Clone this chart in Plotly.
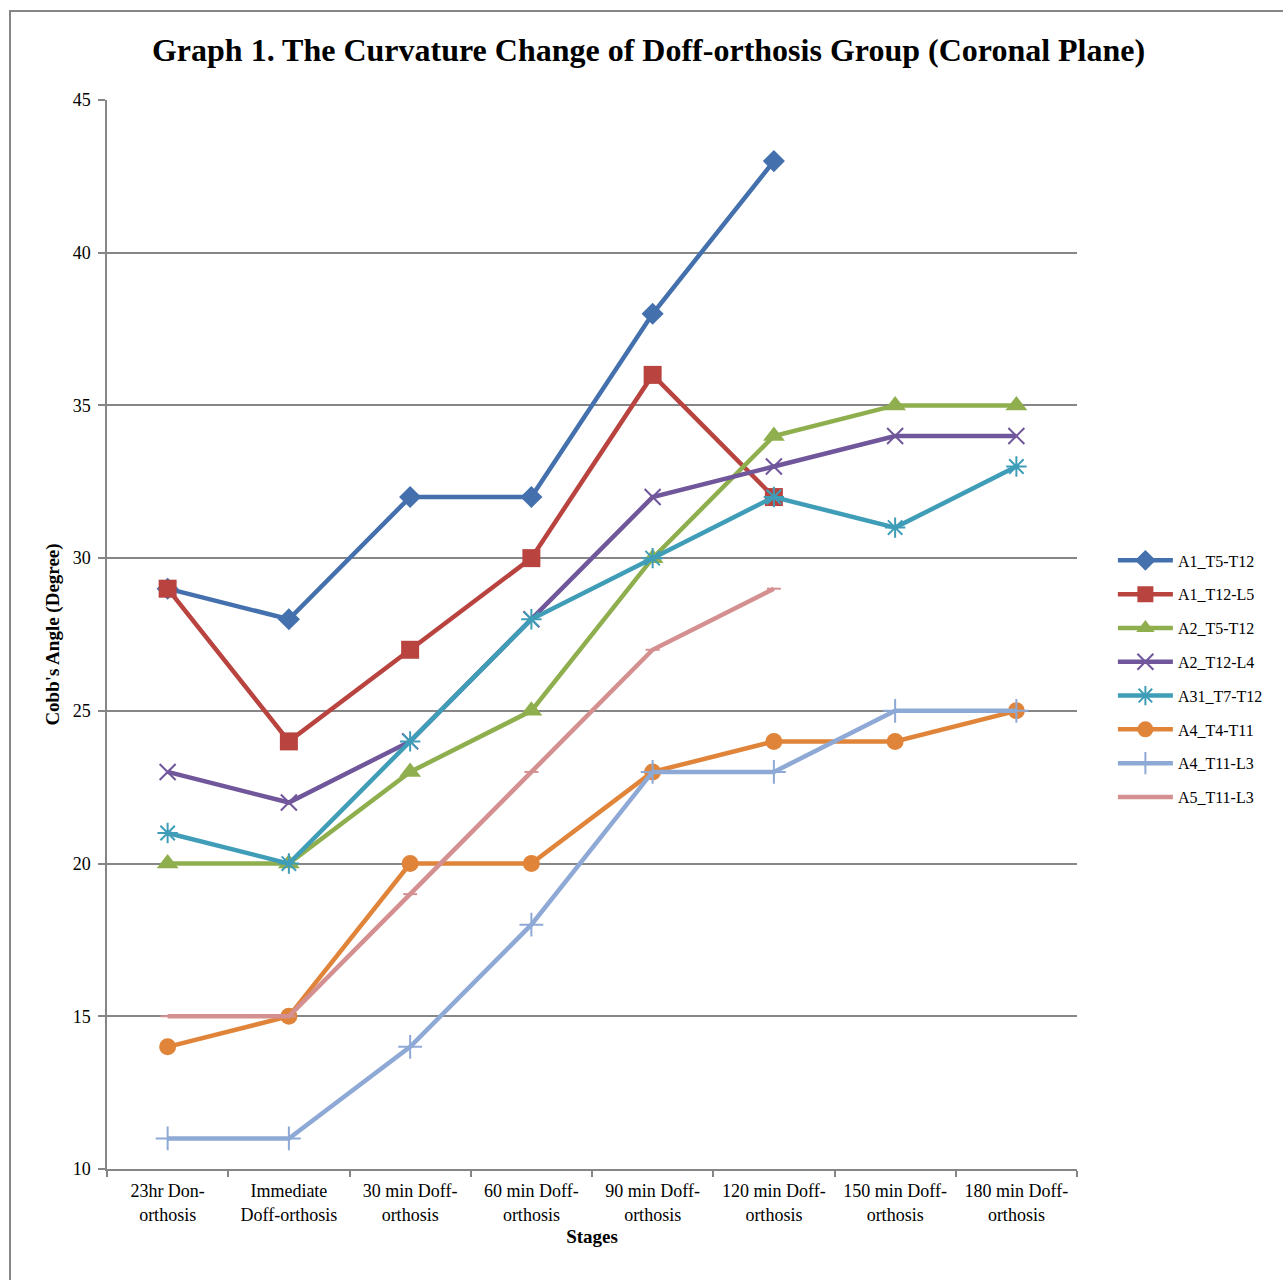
import plotly.graph_objects as go

stages = ["23hr Don-<br>orthosis", "Immediate<br>Doff-orthosis", "30 min Doff-<br>orthosis",
          "60 min Doff-<br>orthosis", "90 min Doff-<br>orthosis", "120 min Doff-<br>orthosis",
          "150 min Doff-<br>orthosis", "180 min Doff-<br>orthosis"]

A1_T5_T12 = [29, 28, 32, 32, 38, 43, None, None]
A1_T12_L5 = [29, 24, 27, 30, 36, 32, None, None]
A2_T5_T12 = [20, 20, 23, 25, 30, 34, 35, 35]
A2_T12_L4 = [23, 22, 24, 28, 32, 33, 34, 34]
A31_T7_T12 = [21, 20, 24, 28, 30, 32, 31, 33]
A4_T4_T11 = [14, 15, 20, 20, 23, 24, 24, 25]
A4_T11_L3 = [11, 11, 14, 18, 23, 23, 25, 25]
A5_T11_L3 = [15, 15, 19, 23, 27, 29, None, None]

series = [
    ("A1_T5-T12", A1_T5_T12, "#4471AD", "diamond", 17),
    ("A1_T12-L5", A1_T12_L5, "#B8433F", "square", 18),
    ("A2_T5-T12", A2_T5_T12, "#8FAF4E", "triangle-up", 19),
    ("A2_T12-L4", A2_T12_L4, "#70569A", "x-thin-open", 16),
    ("A31_T7-T12", A31_T7_T12, "#3F9DB8", "asterisk-open", 17),
    ("A4_T4-T11", A4_T4_T11, "#E0843A", "circle", 17),
    ("A4_T11-L3", A4_T11_L3, "#8EA9D5", "cross-thin-open", 17),
    ("A5_T11-L3", A5_T11_L3, "#D49090", "line-ew-open", 10),
]

fig = go.Figure()
for name, vals, color, sym, size in series:
    open_sym = sym.endswith("open")
    fig.add_trace(go.Scatter(
        x=stages, y=vals, name=name, mode="lines+markers",
        legendgroup=name,
        line=dict(color=color, width=4.5),
        marker=dict(symbol=sym, size=size, color=color,
                    line=dict(color=color, width=2 if open_sym else 0)),
        connectgaps=False,
    ))

font_family = "Liberation Serif, Times New Roman, serif"

fig.update_layout(
    width=1283, height=1280,
    margin=dict(l=107, r=206, t=100, b=111),
    paper_bgcolor="white", plot_bgcolor="white",
    font=dict(family=font_family, size=18, color="black"),
    title=dict(text="<b>Graph 1. The Curvature Change of Doff-orthosis Group (Coronal Plane)</b>",
               x=0.5055, xanchor="center", y=0.961, yanchor="middle",
               font=dict(family=font_family, size=32, color="black")),
    legend=dict(x=1.037, xanchor="left", y=0.4584, yanchor="middle",
                traceorder="grouped", tracegroupgap=10,
                font=dict(family=font_family, size=16, color="black"),
                itemwidth=55, bgcolor="rgba(0,0,0,0)"),
    showlegend=True,
)

fig.update_xaxes(
    type="category", range=[-0.5, 7.5],
    showline=True, linecolor="#868686", linewidth=1.5,
    ticks="outside", tickson="boundaries", ticklen=6, tickcolor="#868686", tickwidth=1.5,
    showgrid=False, zeroline=False, ticklabelstandoff=5,
    tickfont=dict(family=font_family, size=18, color="black"),
    title=dict(text="<b>Stages</b>", standoff=6,
               font=dict(family=font_family, size=19, color="black")),
)
fig.update_yaxes(
    range=[10, 45], dtick=5, tick0=10,
    showline=True, linecolor="#868686", linewidth=1.5,
    ticks="outside", ticklen=7, tickcolor="#868686", tickwidth=1.5,
    showgrid=True, gridcolor="#868686", gridwidth=1.5,
    zeroline=False, ticklabelstandoff=4,
    tickfont=dict(family=font_family, size=18, color="black"),
    title=dict(text="<b>Cobb's Angle (Degree)</b>", standoff=8,
               font=dict(family=font_family, size=19, color="black")),
)

# outer chart border
fig.add_shape(type="rect", xref="paper", yref="paper",
              x0=-0.1, x1=1.3, y0=-0.2, y1=1.0833,
              line=dict(color="#868686", width=2), fillcolor="rgba(0,0,0,0)", layer="below")

fig.write_html("out.html")
